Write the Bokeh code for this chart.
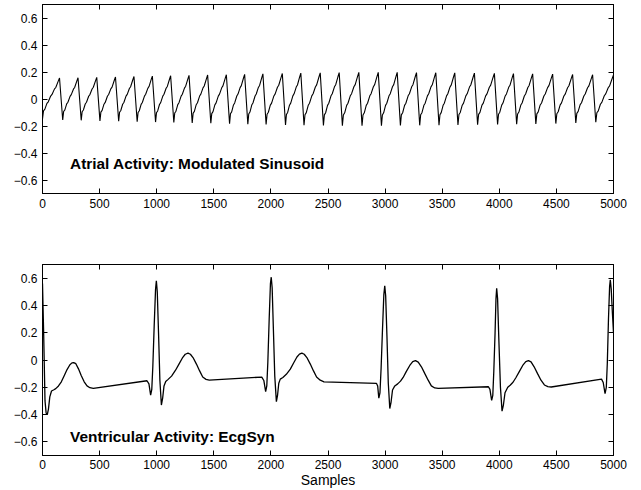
from bokeh.plotting import figure
from bokeh.layouts import column
from bokeh.models import LinearAxis, FixedTicker, Range1d, ColumnDataSource, CustomJSTickFormatter
from bokeh.core.properties import value
from bokeh.embed import file_html
from bokeh.resources import INLINE

# ---------------- data ----------------
x_ticks = [0, 500, 1000, 1500, 2000, 2500, 3000, 3500, 4000, 4500, 5000]
y_ticks = [-0.6, -0.4, -0.2, 0, 0.2, 0.4, 0.6]
y_tick_labels = ["\u22120.6", "\u22120.4", "\u22120.2", "0", "0.2", "0.4", "0.6"]

# Atrial activity: troughs and peaks of each sawtooth-like cycle
atr_trough_x = [0, 177, 339, 503, 667, 829, 990, 1150, 1311, 1474, 1638, 1798, 1958, 2128, 2290,
                2460, 2626, 2798, 2968, 3134, 3303, 3472, 3638, 3810, 3985, 4152, 4320, 4495, 4670, 4845]
atr_trough_y = [-0.148, -0.155, -0.158, -0.162, -0.165, -0.168, -0.171, -0.174, -0.177, -0.180,
                -0.183, -0.186, -0.189, -0.192, -0.194, -0.196, -0.197, -0.197, -0.197, -0.196,
                -0.195, -0.194, -0.192, -0.190, -0.188, -0.186, -0.184, -0.182, -0.178, -0.172]
atr_peak_x = [149, 311, 475, 639, 801, 962, 1122, 1283, 1446, 1610, 1770, 1930, 2100, 2262, 2432,
              2598, 2770, 2940, 3106, 3275, 3444, 3610, 3782, 3957, 4124, 4292, 4467, 4642, 4817, 5000]
atr_peak_y = [0.155, 0.157, 0.160, 0.163, 0.167, 0.170, 0.172, 0.175, 0.178, 0.180,
              0.183, 0.186, 0.189, 0.192, 0.194, 0.196, 0.197, 0.197, 0.197, 0.196,
              0.195, 0.194, 0.192, 0.190, 0.188, 0.186, 0.184, 0.182, 0.180, 0.178]
# stepped shape of the rising ramp, read from one enlarged cycle (time fraction, amplitude fraction)
ramp_t = [0.0, 0.06, 0.14, 0.26, 0.34, 0.48, 0.56, 0.70, 0.78, 0.92, 1.0]
ramp_a = [0.0, 0.20, 0.24, 0.38, 0.42, 0.56, 0.60, 0.73, 0.77, 0.92, 1.0]

# Ventricular activity (EcgSyn) traced points
ecg_x = [0, 10, 22, 32, 42, 52, 64, 79, 100, 116, 140, 165, 190, 215, 240, 258, 273, 292, 315, 340,
         365, 390, 415, 445,
         915, 932, 947, 957, 966, 978, 990, 997, 1005, 1016, 1028, 1041, 1052, 1064, 1079, 1100,
         1130, 1165, 1195, 1225, 1250, 1274, 1295, 1318, 1348, 1376, 1403, 1432, 1460,
         1920, 1938, 1954, 1964, 1973, 1985, 1996, 2003, 2011, 2022, 2034, 2048, 2058, 2069, 2082,
         2105, 2135, 2170, 2200, 2228, 2250, 2271, 2292, 2315, 2345, 2373, 2400, 2432, 2465,
         2925, 2935, 2945, 2955, 2965, 2977, 2989, 2997, 3005, 3016, 3028, 3041, 3052, 3065, 3085,
         3110, 3135, 3158, 3185, 3216, 3242, 3266, 3290, 3318, 3348, 3377, 3405, 3435, 3465,
         3905, 3918, 3933, 3943, 3952, 3963, 3971, 3977, 3985, 3996, 4010, 4024, 4036, 4050, 4074,
         4095, 4120, 4145, 4175, 4205, 4232, 4255, 4278, 4305, 4335, 4365, 4395, 4425, 4455,
         4895, 4910, 4926, 4937, 4946, 4956, 4966, 4972, 4980, 4990, 5000]
ecg_y = [0.56, 0.20, -0.30, -0.39, -0.40, -0.36, -0.27, -0.227, -0.218, -0.21, -0.19, -0.16, -0.115,
         -0.07, -0.035, -0.021, -0.019, -0.027, -0.065, -0.115, -0.16, -0.19, -0.203, -0.208,
         -0.152, -0.175, -0.257, -0.215, -0.05, 0.25, 0.52, 0.58, 0.50, 0.20, -0.15, -0.33, -0.28,
         -0.19, -0.158, -0.142,
         -0.118, -0.075, -0.03, 0.015, 0.042, 0.05, 0.042, 0.018, -0.03, -0.08, -0.125, -0.142, -0.147,
         -0.125, -0.15, -0.232, -0.19, -0.02, 0.30, 0.56, 0.607, 0.53, 0.22, -0.12, -0.306, -0.26,
         -0.17, -0.14,
         -0.128, -0.105, -0.067, -0.02, 0.022, 0.043, 0.05, 0.042, 0.018, -0.03, -0.08, -0.125, -0.148, -0.16,
         -0.172, -0.19, -0.28, -0.24, -0.06, 0.22, 0.48, 0.543, 0.47, 0.18, -0.17, -0.356, -0.31,
         -0.22, -0.19,
         -0.175, -0.155, -0.128, -0.085, -0.04, -0.012, -0.005, -0.015, -0.05, -0.10, -0.148, -0.19, -0.205, -0.208,
         -0.196, -0.215, -0.296, -0.26, -0.08, 0.20, 0.45, 0.526, 0.45, 0.15, -0.20, -0.375, -0.33,
         -0.24, -0.20,
         -0.185, -0.163, -0.13, -0.085, -0.04, -0.012, -0.005, -0.014, -0.05, -0.10, -0.148, -0.183, -0.195, -0.198,
         -0.14, -0.165, -0.247, -0.20, -0.02, 0.30, 0.54, 0.587, 0.52, 0.35, 0.20]

top_label = ["Atrial Activity: Modulated Sinusoid"]
bottom_label = ["Ventricular Activity: EcgSyn"]
label_x = [241]
top_label_y = [-0.48]
bottom_label_y = [-0.561]
x_axis_title = "Samples"

# ---------------- build atrial curve from the read cycle points ----------------
atr_x, atr_y = [], []
for i in range(len(atr_peak_x)):
    t0, a0 = atr_trough_x[i], atr_trough_y[i]
    t1, a1 = atr_peak_x[i], atr_peak_y[i]
    for ft, fa in zip(ramp_t, ramp_a):
        atr_x.append(t0 + ft * (t1 - t0))
        atr_y.append(a0 + fa * (a1 - a0))

FONT = "Liberation Sans"
BLANK = CustomJSTickFormatter(code="return '';")


def make_fig(height, top, bottom):
    p = figure(width=636, height=height, output_backend="svg", toolbar_location=None,
               x_range=Range1d(0, 5000), y_range=Range1d(-0.7, 0.7),
               min_border_left=42, min_border_right=23, min_border_top=top, min_border_bottom=bottom)
    p.grid.visible = False
    p.outline_line_color = "black"
    p.outline_line_width = 1
    p.background_fill_color = "white"
    p.border_fill_color = "white"
    fmt = CustomJSTickFormatter(args=dict(tk=y_ticks, lb=y_tick_labels),
                                code="const i = tk.findIndex(t => Math.abs(t - tick) < 1e-9); return i >= 0 ? lb[i] : '';")
    xax = p.xaxis[0]
    yax = p.yaxis[0]
    xax.ticker = FixedTicker(ticks=x_ticks)
    yax.ticker = FixedTicker(ticks=y_ticks)
    yax.formatter = fmt
    for ax in (xax, yax):
        ax.major_tick_in = 5
        ax.major_tick_out = 0
        ax.minor_tick_line_color = None
        ax.major_tick_line_color = "black"
        ax.axis_line_color = "black"
        ax.major_label_text_font = FONT
        ax.major_label_text_font_size = "12px"
        ax.major_label_text_color = "black"
        ax.major_label_standoff = 5
    # mirror ticks on top and right (no labels)
    top_ax = LinearAxis(ticker=FixedTicker(ticks=x_ticks), formatter=BLANK, major_tick_in=5, major_tick_out=0,
                        minor_tick_line_color=None, major_label_standoff=0, axis_line_color="black")
    right_ax = LinearAxis(ticker=FixedTicker(ticks=y_ticks), formatter=BLANK, major_tick_in=5, major_tick_out=0,
                          minor_tick_line_color=None, major_label_standoff=0, axis_line_color="black")
    p.add_layout(top_ax, "above")
    p.add_layout(right_ax, "right")
    return p, xax


p1, _ = make_fig(231, 4, 38)
p1.line(atr_x, atr_y, line_color="black", line_width=1.1)
p1.text(x="x", y="y", text="t", source=ColumnDataSource(dict(x=label_x, y=top_label_y, t=top_label)),
        text_font=value(FONT), text_font_style="bold", text_font_size="15.4px",
        text_baseline="alphabetic", text_align="left", text_color="black")

p2, xax2 = make_fig(259, 33, 35)
p2.line(ecg_x, ecg_y, line_color="black", line_width=1.3)
p2.text(x="x", y="y", text="t", source=ColumnDataSource(dict(x=label_x, y=bottom_label_y, t=bottom_label)),
        text_font=value(FONT), text_font_style="bold", text_font_size="15.4px",
        text_baseline="alphabetic", text_align="left", text_color="black")
xax2.axis_label = x_axis_title
xax2.axis_label_text_font = FONT
xax2.axis_label_text_font_size = "14px"
xax2.axis_label_text_font_style = "normal"
xax2.axis_label_text_color = "black"
xax2.axis_label_standoff = 0
xax2.major_label_standoff = 4

layout = column(p1, p2, spacing=0)

open("out.html", "w").write(file_html(layout, INLINE))
